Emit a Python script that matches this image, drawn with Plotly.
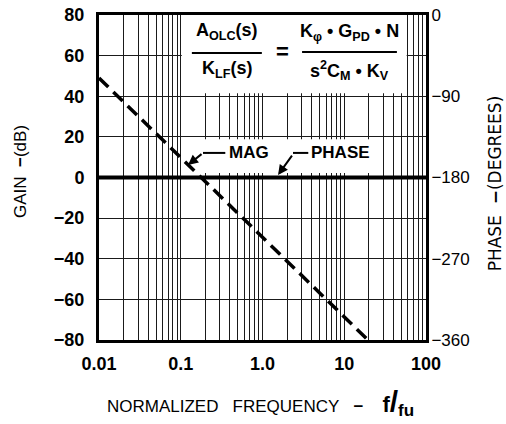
import plotly.graph_objects as go

# ---- data ----
mag_freq = [0.01, 19.5]          # normalized frequency f/fu
mag_gain_db = [49, -80]          # gain (dB), -40 dB/decade
phase_freq = [0.01, 100]
phase_deg = [-180, -180]         # phase (degrees)

x_tickvals = [0.01, 0.1, 1, 10, 100]
x_ticktext = ["0.01", "0.1", "1.0", "10", "100"]
y_tickvals = [-80, -60, -40, -20, 0, 20, 40, 60, 80]
y_ticktext = ["−80", "−60", "−40", "−20", "0", "20", "40", "60", "80"]
y2_tickvals = [-360, -270, -180, -90, 0]
y2_ticktext = ["−360", "−270", "−180", "−90", "0"]
minor_vals = [m * 10.0 ** d for d in range(-2, 2) for m in range(2, 10)]

FONT = "Liberation Sans, Arial, sans-serif"
GRID = "#1a1a1a"

fig = go.Figure()
fig.add_trace(go.Scatter(x=mag_freq, y=mag_gain_db, mode="lines",
                         line=dict(color="black", width=3.5, dash="13px,7px"),
                         showlegend=False, hoverinfo="skip"))
fig.add_trace(go.Scatter(x=phase_freq, y=phase_deg, mode="lines", yaxis="y2",
                         line=dict(color="black", width=4),
                         showlegend=False, hoverinfo="skip"))

fig.update_layout(
    width=506, height=424,
    margin=dict(l=99, r=80, t=15, b=84, autoexpand=False),
    paper_bgcolor="white", plot_bgcolor="white",
    xaxis=dict(type="log", range=[-2, 2], tickvals=x_tickvals, ticktext=x_ticktext,
               showgrid=True, gridcolor=GRID, gridwidth=1, automargin=False,
               minor=dict(tickvals=minor_vals, showgrid=True, gridcolor=GRID, gridwidth=1, ticks=""),
               showline=True, linecolor="black", linewidth=3, mirror=True,
               ticks="outside", ticklen=5, tickcolor="rgba(0,0,0,0)",
               tickfont=dict(family=FONT, size=18, color="black", weight="bold"),
               zeroline=False),
    yaxis=dict(range=[-80, 80], tickvals=y_tickvals, ticktext=y_ticktext,
               showgrid=True, gridcolor=GRID, gridwidth=1.2, automargin=False,
               showline=True, linecolor="black", linewidth=3, mirror=True,
               ticks="outside", ticklen=8, tickcolor="rgba(0,0,0,0)",
               tickfont=dict(family=FONT, size=18, color="black", weight="bold"),
               zeroline=False),
    yaxis2=dict(range=[-360, 0], overlaying="y", side="right", automargin=False,
                tickvals=y2_tickvals, ticktext=y2_ticktext, showgrid=False, zeroline=False,
                ticks="outside", ticklen=1, tickcolor="rgba(0,0,0,0)",
                tickfont=dict(family=FONT, size=17, color="black")),
)

# white areas where the printed chart hides the grid
fig.add_shape(type="rect", xref="x", yref="y", x0=0.103, x1=58, y0=41.5, y1=80,
              fillcolor="white", line=dict(width=0), layer="between")
fig.add_shape(type="rect", xref="x", yref="y", x0=0.103, x1=28, y0=2.2, y1=18.8,
              fillcolor="white", line=dict(width=0), layer="between")

EQ = dict(family=FONT, size=18, color="black", weight="bold")
ann = []
# equation
ann.append(dict(xref="paper", yref="paper", x=0.391, y=0.948, text="A<sub>OLC</sub>(s)", font=EQ))
ann.append(dict(xref="paper", yref="paper", x=0.391, y=0.832, text="K<sub>LF</sub>(s)", font=EQ))
ann.append(dict(xref="paper", yref="paper", x=0.560, y=0.889, text="=", font=dict(EQ, size=22)))
ann.append(dict(xref="paper", yref="paper", x=0.766, y=0.945, text="K<sub>φ</sub> • G<sub>PD</sub> • N", font=EQ))
ann.append(dict(xref="paper", yref="paper", x=0.766, y=0.828, text="s<sup>2</sup>C<sub>M</sub> • K<sub>V</sub>", font=EQ))
for a in ann:
    a.update(showarrow=False, xanchor="center", yanchor="middle")
fig.add_shape(type="line", xref="paper", yref="paper", x0=0.284, x1=0.498, y0=0.883, y1=0.883,
              line=dict(color="black", width=2))
fig.add_shape(type="line", xref="paper", yref="paper", x0=0.621, x1=0.911, y0=0.886, y1=0.886,
              line=dict(color="black", width=2))

LAB = dict(family=FONT, size=17, color="black", weight="bold")
# MAG label with leader
ann.append(dict(xref="x", yref="y", x=-0.44, y=12.1, text="MAG", font=LAB,
                showarrow=False, xanchor="left", yanchor="middle"))
ann.append(dict(xref="x", yref="y", x=-0.911, y=6.2, text="", showarrow=True,
                axref="pixel", ayref="pixel", ax=15, ay=-12,
                arrowhead=2, arrowsize=1, arrowwidth=2, arrowcolor="black"))
fig.add_shape(type="line", xref="x", yref="y", x0=10 ** -0.728, x1=10 ** -0.455, y0=12.1, y1=12.1,
              line=dict(color="black", width=2))
# PHASE label with leader
ann.append(dict(xref="x", yref="y", x=0.57, y=12.1, text="PHASE", font=LAB,
                showarrow=False, xanchor="left", yanchor="middle"))
ann.append(dict(xref="x", yref="y", x=0.19, y=1.2, text="", showarrow=True,
                axref="pixel", ayref="pixel", ax=15, ay=-21,
                arrowhead=2, arrowsize=1, arrowwidth=2, arrowcolor="black"))
fig.add_shape(type="line", xref="x", yref="y", x0=10 ** 0.373, x1=10 ** 0.56, y0=12.1, y1=12.1,
              line=dict(color="black", width=2))

# axis titles
ann.append(dict(xref="paper", yref="paper", x=-0.2416, y=0.52, text="GAIN  <b>−</b>(dB)",
                textangle=-90, showarrow=False, xanchor="center", yanchor="middle",
                font=dict(family=FONT, size=17, color="black")))
ann.append(dict(xref="paper", yref="paper", x=1.212, y=0.483, text="PHASE  <b>−</b>(DEGREES)",
                textangle=-90, showarrow=False, xanchor="center", yanchor="middle",
                font=dict(family="DejaVu Sans, sans-serif", size=17, color="black")))
ann.append(dict(xref="paper", yref="paper", x=0.018, y=-0.192,
                text=("NORMALIZED&nbsp;&nbsp;&nbsp;FREQUENCY&nbsp;&nbsp;&nbsp;<b>−</b>&nbsp;&nbsp;&nbsp;&nbsp;"
                      "<b><span style='font-size:22px'>f</span><span style='font-size:30px'>/</span>"
                      "<sub><span style='font-size:17px'>fu</span></sub></b>"),
                showarrow=False, xanchor="left", yanchor="middle",
                font=dict(family=FONT, size=17, color="black")))

fig.update_layout(annotations=ann)
# remove the browser's default 8px body margin so the figure sits at the page origin
fig.write_html("out.html", config={"displayModeBar": False},
               post_script="document.body.style.margin='0';")
